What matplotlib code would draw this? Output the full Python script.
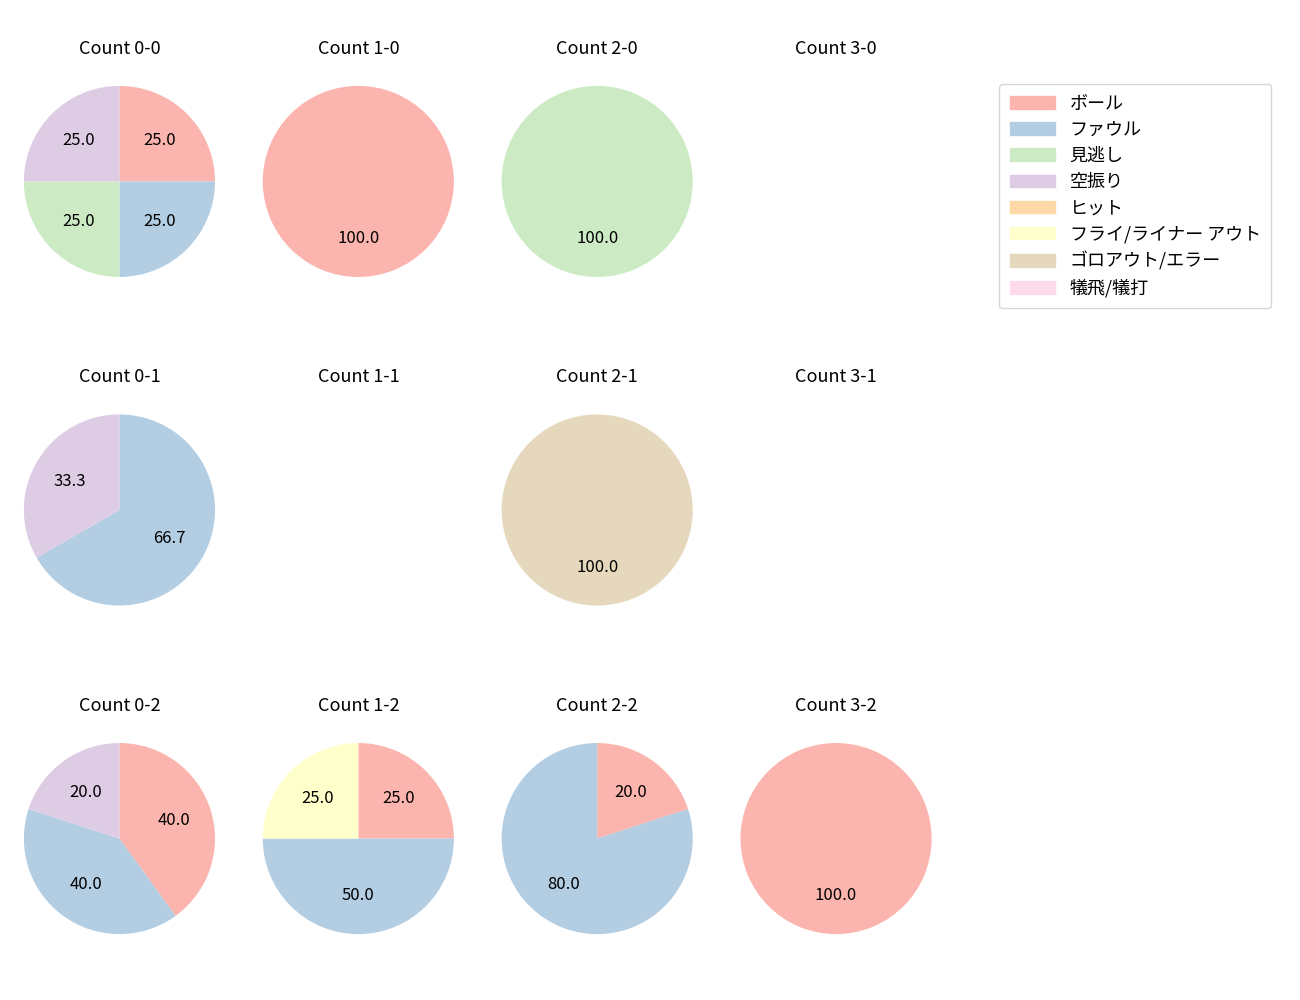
import matplotlib
matplotlib.use("Agg")
import matplotlib.pyplot as plt
import numpy as np

plt.rcParams['font.family'] = ['Noto Sans CJK JP', 'DejaVu Sans']

categories = ["ボール", "ファウル", "見逃し", "空振り", "ヒット", "フライ/ライナー アウト", "ゴロアウト/エラー", "犠飛/犠打"]
balls = [0, 1, 2, 3]
strikes = [0, 1, 2]
# counts per category for each (balls, strikes)
data = {
    (0, 0): [1, 1, 1, 1, 0, 0, 0, 0],
    (1, 0): [1, 0, 0, 0, 0, 0, 0, 0],
    (2, 0): [0, 0, 1, 0, 0, 0, 0, 0],
    (3, 0): [0, 0, 0, 0, 0, 0, 0, 0],
    (0, 1): [0, 2, 0, 1, 0, 0, 0, 0],
    (1, 1): [0, 0, 0, 0, 0, 0, 0, 0],
    (2, 1): [0, 0, 0, 0, 0, 0, 1, 0],
    (3, 1): [0, 0, 0, 0, 0, 0, 0, 0],
    (0, 2): [2, 2, 0, 1, 0, 0, 0, 0],
    (1, 2): [1, 2, 0, 0, 0, 1, 0, 0],
    (2, 2): [1, 4, 0, 0, 0, 0, 0, 0],
    (3, 2): [1, 0, 0, 0, 0, 0, 0, 0],
}

colors = plt.cm.Pastel1(np.arange(8))

fig, axes = plt.subplots(3, 4, figsize=(13, 10), dpi=100)
fig.subplots_adjust(left=0.0, right=0.735, top=0.95, bottom=0.03, wspace=0.0, hspace=0.25)
for r, s in enumerate(strikes):
    for c, b in enumerate(balls):
        ax = axes[r, c]
        vals = np.array(data[(b, s)], dtype=float)
        ax.set_title(f"Count {b}-{s}", fontsize=13)
        if vals.sum() > 0:
            idx = [i for i in range(8) if vals[i] > 0]
            ax.pie(vals[idx], colors=[colors[i] for i in idx], startangle=90,
                   counterclock=False, autopct='%.1f',
                   textprops={'fontsize': 12})
        ax.set_aspect('equal')
        ax.axis('off')

handles = [plt.Rectangle((0, 0), 1, 1, color=colors[i]) for i in range(8)]
fig.legend(handles, categories, loc='upper right', bbox_to_anchor=(0.985, 0.925),
           fontsize=13, borderpad=0.6, labelspacing=0.45, handlelength=2.5)
fig.savefig("out.png")
